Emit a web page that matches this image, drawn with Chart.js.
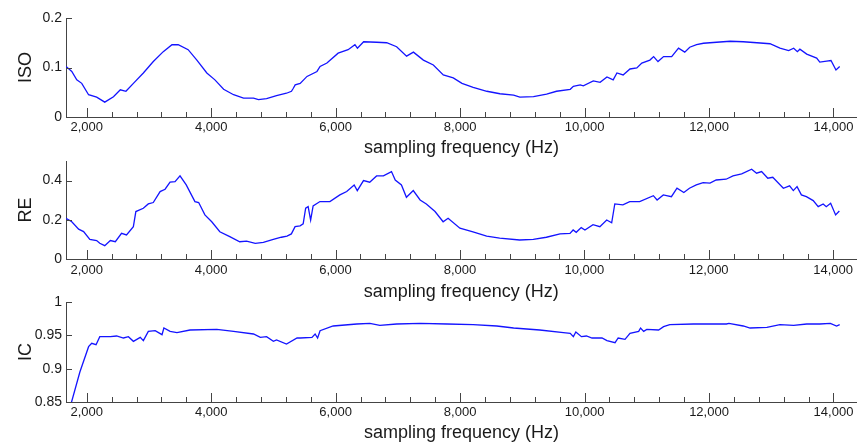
<!DOCTYPE html>
<html>
<head>
<meta charset="utf-8">
<script src="https://cdn.jsdelivr.net/npm/chart.js@4.4.1/dist/chart.umd.min.js"></script>
<style>
  body { margin: 0; background: #fff; }
  #wrap { position: relative; width: 857px; height: 447px; }
  canvas { position: absolute; left: 0; }
</style>
</head>
<body>
<div id="wrap">
  <canvas id="iso" width="857" height="160" style="top:0px"></canvas>
  <canvas id="re" width="857" height="160" style="top:143px"></canvas>
  <canvas id="ic" width="857" height="160" style="top:284px"></canvas>
</div>
<script>
// x axis: sampling frequency (Hz)
const xMin = 1667
const xMax = 14378
const xTicks = [2000, 2400, 2800, 3200, 3600, 4000, 4400, 4800, 5200, 5600, 6000, 6400, 6800, 7200,
  7600, 8000, 8400, 8800, 9200, 9600, 10000, 10400, 10800, 11200, 11600, 12000, 12400, 12800,
  13200, 13600, 14000]
const xLabelEvery = 2000

// ISO
const isoFreq = [1667, 1760, 1840, 1920, 2030, 2160, 2290, 2430, 2540, 2630,
  2750, 2910, 3070, 3230, 3370, 3470, 3630, 3770, 3930, 4060,
  4200, 4360, 4520, 4680, 4760, 4890, 5050, 5210, 5290, 5320,
  5350, 5430, 5540, 5700, 5750, 5860, 6040, 6200, 6310, 6350,
  6450, 6660, 6820, 6980, 7140, 7250, 7410, 7570, 7730, 7890,
  8030, 8210, 8430, 8640, 8860, 8960, 9180, 9390, 9550, 9770,
  9820, 9930, 9980, 10140, 10250, 10360, 10460, 10520, 10620, 10730,
  10840, 10920, 11050, 11110, 11180, 11270, 11400, 11510, 11610, 11690,
  11800, 11910, 12120, 12340, 12550, 12770, 12980, 13140, 13280, 13360,
  13420, 13460, 13570, 13730, 13780, 13890, 13960, 14040, 14100]
const isoVals = [0.102, 0.092, 0.075, 0.068, 0.045, 0.040, 0.030, 0.041, 0.055, 0.052,
  0.068, 0.089, 0.112, 0.132, 0.146, 0.146, 0.136, 0.115, 0.089, 0.075,
  0.056, 0.045, 0.038, 0.038, 0.035, 0.037, 0.043, 0.048, 0.052, 0.058,
  0.065, 0.068, 0.082, 0.092, 0.102, 0.109, 0.129, 0.136, 0.146, 0.139,
  0.152, 0.151, 0.150, 0.142, 0.123, 0.131, 0.115, 0.105, 0.085, 0.079,
  0.068, 0.060, 0.052, 0.047, 0.044, 0.040, 0.041, 0.046, 0.052, 0.056,
  0.062, 0.065, 0.063, 0.073, 0.070, 0.081, 0.075, 0.089, 0.085, 0.097,
  0.099, 0.109, 0.115, 0.122, 0.112, 0.122, 0.122, 0.139, 0.131, 0.141,
  0.146, 0.149, 0.151, 0.153, 0.152, 0.150, 0.148, 0.139, 0.134, 0.139,
  0.132, 0.137, 0.127, 0.119, 0.111, 0.113, 0.114, 0.095, 0.102]
const isoTicks = [0, 0.1, 0.2]

// RE
const reFreq = [1667, 1760, 1870, 1950, 2050, 2160, 2210, 2290, 2380, 2460,
  2560, 2640, 2750, 2790, 2910, 2990, 3070, 3180, 3260, 3340,
  3420, 3500, 3600, 3740, 3800, 3900, 4010, 4140, 4300, 4460,
  4570, 4710, 4840, 5000, 5130, 5220, 5290, 5350, 5430, 5480,
  5520, 5560, 5600, 5640, 5750, 5910, 6070, 6180, 6300, 6350,
  6450, 6550, 6660, 6770, 6900, 6960, 7060, 7140, 7250, 7360,
  7460, 7600, 7730, 7810, 8000, 8210, 8430, 8640, 8960, 9180,
  9390, 9610, 9770, 9820, 9870, 9950, 10010, 10140, 10250, 10360,
  10440, 10490, 10620, 10730, 10890, 11110, 11170, 11270, 11400, 11490,
  11600, 11690, 11800, 11910, 12020, 12120, 12280, 12390, 12530, 12690,
  12770, 12850, 12950, 13030, 13200, 13300, 13360, 13420, 13490, 13570,
  13680, 13760, 13840, 13890, 13960, 14040, 14100]
const reVals = [0.208, 0.190, 0.152, 0.140, 0.100, 0.094, 0.080, 0.068, 0.094, 0.088,
  0.131, 0.123, 0.165, 0.242, 0.259, 0.281, 0.288, 0.344, 0.356, 0.392,
  0.395, 0.424, 0.378, 0.293, 0.288, 0.225, 0.190, 0.139, 0.114, 0.088,
  0.091, 0.080, 0.085, 0.100, 0.111, 0.117, 0.128, 0.165, 0.169, 0.179,
  0.259, 0.267, 0.199, 0.271, 0.293, 0.293, 0.327, 0.344, 0.378, 0.349,
  0.400, 0.392, 0.424, 0.424, 0.446, 0.403, 0.378, 0.315, 0.349, 0.301,
  0.281, 0.242, 0.190, 0.208, 0.157, 0.139, 0.117, 0.107, 0.097, 0.100,
  0.111, 0.128, 0.131, 0.148, 0.136, 0.160, 0.148, 0.175, 0.165, 0.199,
  0.185, 0.281, 0.276, 0.293, 0.293, 0.323, 0.301, 0.327, 0.318, 0.361,
  0.339, 0.361, 0.378, 0.390, 0.387, 0.403, 0.407, 0.424, 0.434, 0.458,
  0.438, 0.446, 0.412, 0.417, 0.361, 0.373, 0.349, 0.369, 0.327, 0.318,
  0.298, 0.267, 0.281, 0.267, 0.284, 0.225, 0.245]
const reTicks = [0, 0.2, 0.4]

// IC
const icFreq = [1667, 1890, 2030, 2080, 2150, 2210, 2380, 2480, 2590, 2670,
  2750, 2860, 2910, 2990, 3100, 3210, 3240, 3340, 3450, 3660,
  4090, 4360, 4680, 4790, 4890, 5000, 5050, 5210, 5380, 5430,
  5620, 5670, 5710, 5750, 5960, 6340, 6550, 6710, 6980, 7360,
  7790, 8210, 8590, 8860, 9280, 9660, 9770, 9820, 9860, 9950,
  10030, 10120, 10280, 10360, 10490, 10540, 10650, 10730, 10870, 10900,
  10950, 11000, 11190, 11270, 11370, 11750, 12280, 12320, 12550, 12660,
  12930, 13140, 13360, 13570, 13780, 13950, 14050, 14100]
const icVals = [0.820, 0.895, 0.933, 0.938, 0.936, 0.948, 0.948, 0.949, 0.946, 0.948,
  0.941, 0.947, 0.942, 0.956, 0.957, 0.951, 0.961, 0.956, 0.954, 0.958,
  0.959, 0.956, 0.952, 0.947, 0.948, 0.941, 0.943, 0.937, 0.946, 0.946,
  0.947, 0.952, 0.946, 0.957, 0.964, 0.967, 0.968, 0.965, 0.967, 0.968,
  0.967, 0.966, 0.964, 0.961, 0.958, 0.954, 0.953, 0.948, 0.955, 0.948,
  0.949, 0.946, 0.946, 0.942, 0.939, 0.946, 0.944, 0.953, 0.956, 0.961,
  0.956, 0.959, 0.958, 0.963, 0.966, 0.967, 0.967, 0.968, 0.964, 0.961,
  0.962, 0.966, 0.965, 0.967, 0.967, 0.968, 0.964, 0.966]
const icTicks = [0.85, 0.9, 0.95, 1]

Chart.defaults.font.family = '"Liberation Sans", Arial, sans-serif'
Chart.defaults.color = '#1a1a1a'

const axisColor = '#444'

// tick marks point inward, like the original plot
const inwardTicks = {
  id: 'inwardTicks',
  afterDraw(chart) {
    const { ctx, chartArea: a, scales: { x, y } } = chart
    ctx.save()
    ctx.strokeStyle = axisColor
    ctx.lineWidth = 1
    ctx.beginPath()
    x.ticks.forEach(t => {
      const px = Math.round(x.getPixelForValue(t.value)) + 0.5
      const len = t.value % xLabelEvery === 0 ? 9 : 5
      ctx.moveTo(px, a.bottom)
      ctx.lineTo(px, a.bottom - len)
    })
    y.ticks.forEach(t => {
      const py = Math.round(y.getPixelForValue(t.value)) + 0.5
      ctx.moveTo(a.left, py)
      ctx.lineTo(a.left + 6, py)
    })
    ctx.stroke()
    ctx.restore()
  }
}

function makePanel(id, freq, vals, title, yMin, yMax, yTicks, plotH, labelPad, titlePad) {
  const points = freq.map((f, i) => ({ x: f, y: vals[i] }))
  return new Chart(document.getElementById(id), {
    type: 'line',
    data: {
      datasets: [{
        label: title,
        data: points,
        borderColor: '#1414ff',
        borderWidth: 1.3,
        pointRadius: 0,
        tension: 0,
        fill: false,
      }],
    },
    options: {
      responsive: false,
      animation: false,
      layout: { padding: { top: 18, left: 0, right: 0, bottom: 0 } },
      plugins: { legend: { display: false }, tooltip: { enabled: false } },
      scales: {
        x: {
          type: 'linear',
          min: xMin,
          max: xMax,
          afterBuildTicks: s => { s.ticks = xTicks.map(v => ({ value: v })) },
          afterFit: s => { s.height = 160 - 18 - plotH },
          grid: { display: false, drawTicks: false },
          border: { display: true, color: axisColor, width: 1 },
          ticks: {
            autoSkip: false,
            maxRotation: 0,
            padding: labelPad,
            font: { size: 13 },
            callback: v => (v % xLabelEvery === 0 ? v.toLocaleString('en-US') : ''),
          },
          title: {
            display: true,
            text: 'sampling frequency (Hz)',
            font: { size: 18 },
            padding: { top: 0, bottom: titlePad },
          },
        },
        y: {
          min: yMin,
          max: yMax,
          afterBuildTicks: s => { s.ticks = yTicks.map(v => ({ value: v })) },
          afterFit: s => { s.width = 66 },
          grid: { display: false, drawTicks: false },
          border: { display: true, color: axisColor, width: 1 },
          ticks: {
            padding: 4,
            font: { size: 14 },
            callback: v => String(v),
          },
          title: {
            display: true,
            text: title,
            font: { size: 18 },
            padding: { top: 15, bottom: 0 },
          },
        },
      },
    },
    plugins: [inwardTicks],
  })
}

makePanel('iso', isoFreq, isoVals, 'ISO', 0, 0.2, isoTicks, 99, 3, 1)
makePanel('re', reFreq, reVals, 'RE', 0, 0.5, reTicks, 98, 4, 0)
makePanel('ic', icFreq, icVals, 'IC', 0.85, 1, icTicks, 100, 3, 0)
</script>
</body>
</html>
